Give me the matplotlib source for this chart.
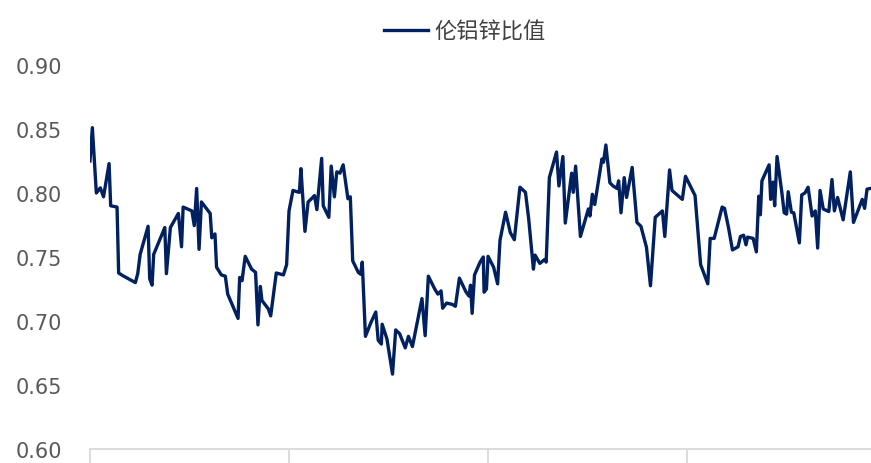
import matplotlib.pyplot as plt

# 伦铝锌比值 (LME aluminium / zinc), trading-day index from start of series
day = [0, 3, 8, 13, 17, 24, 26, 34, 36, 41, 57, 60, 63, 73, 75, 78, 80, 94, 96, 101,
       111, 115, 117, 128, 131, 134, 137, 140, 151, 153, 157, 159,
       165, 170, 173, 186, 188, 191, 195, 203, 208, 211, 214, 216, 224, 227, 234, 243,
       247, 250, 255, 260, 263, 265, 270, 274, 279, 282, 285, 291, 293, 300, 303, 307,
       310, 314, 318, 324, 327,
       330, 337, 340, 342, 346, 353, 359, 362, 366, 367, 373, 380, 384, 389, 396, 400,
       405, 417, 421, 425, 433, 437, 441, 443, 448, 455, 459, 464, 472, 476, 478, 480,
       483, 490,
       494, 495, 498, 500, 507, 512, 515, 522, 528, 533, 540, 547, 551, 557, 559, 565,
       571, 573, 577, 586, 589, 594, 597, 605, 607, 610, 616, 626, 628, 631, 634, 643,
       645, 648, 653,
       657, 662, 664, 667, 671, 674, 681, 687, 692, 699, 704, 710, 719, 722, 728, 731,
       744, 748, 760, 767, 776, 779, 784, 794, 797, 802, 807, 814,
       817, 821, 824, 826, 833, 837, 840, 842, 844, 853, 855, 858, 860, 863, 869, 872,
       875, 877, 881, 884, 891, 894, 898, 902, 907, 911, 914, 917, 921, 928, 932, 935,
       939, 946, 955, 959, 970, 973, 976, 980]
ratio = [0.825, 0.851, 0.800, 0.804, 0.797, 0.823, 0.790, 0.789, 0.7375, 0.7355, 0.730,
         0.737, 0.752, 0.774, 0.733, 0.728, 0.752, 0.773, 0.737, 0.773,
         0.784, 0.758, 0.789, 0.786, 0.7745, 0.8035, 0.756, 0.793, 0.784, 0.765, 0.768, 0.742,
         0.736, 0.735, 0.721, 0.702, 0.734, 0.7315, 0.7505, 0.7405, 0.738, 0.697, 0.727,
         0.716, 0.7095, 0.704, 0.7375, 0.736,
         0.744, 0.786, 0.802, 0.801, 0.8005, 0.819, 0.770, 0.793, 0.796, 0.798, 0.787,
         0.827, 0.790, 0.781, 0.821, 0.797,
         0.8165, 0.8155, 0.822, 0.7955, 0.797,
         0.747, 0.738, 0.7365, 0.746, 0.688, 0.699, 0.707, 0.685, 0.682, 0.6975, 0.686,
         0.6585, 0.693, 0.690, 0.679, 0.688,
         0.680, 0.7175, 0.6885, 0.735, 0.725, 0.721, 0.7235, 0.710, 0.714, 0.713, 0.7115,
         0.7335, 0.723, 0.7195, 0.728, 0.706,
         0.736, 0.746,
         0.750, 0.7225, 0.725, 0.7505, 0.742, 0.729, 0.763, 0.785, 0.769, 0.7635, 0.8045,
         0.8005, 0.780, 0.7405, 0.7515, 0.745,
         0.748, 0.746, 0.812, 0.832, 0.8055, 0.8285, 0.7765, 0.8155, 0.8005, 0.821, 0.766,
         0.7875, 0.782, 0.799, 0.791, 0.8265,
         0.824, 0.8375, 0.808,
         0.8055, 0.8035, 0.8095, 0.7845, 0.812, 0.7965, 0.820, 0.777, 0.774, 0.7575, 0.7275,
         0.781, 0.786, 0.766, 0.818, 0.802,
         0.795, 0.813, 0.798, 0.744, 0.729, 0.7645, 0.7645, 0.789, 0.788, 0.773, 0.7555, 0.758,
         0.766, 0.767, 0.7595, 0.7655, 0.7645, 0.754, 0.7975, 0.783, 0.8095, 0.822, 0.795,
         0.8085, 0.790, 0.8285, 0.8005, 0.7845,
         0.7835, 0.801, 0.785, 0.7845, 0.761, 0.7985, 0.800, 0.8045, 0.782, 0.786, 0.757,
         0.802, 0.7875, 0.7855, 0.8105, 0.786,
         0.7965, 0.779, 0.8165, 0.777, 0.795, 0.788, 0.803, 0.8035]

yticks = [0.60, 0.65, 0.70, 0.75, 0.80, 0.85, 0.90]
xticks = [0, 250, 500, 750]

plt.rcParams['font.family'] = ['Noto Sans CJK SC', 'DejaVu Sans']

fig = plt.figure(figsize=(8.71, 4.64), dpi=100)
ax = fig.add_axes([0.1033, 0.0302, 0.8967, 0.8276])

ax.plot(day, ratio, color='#002060', lw=2.4, label='伦铝锌比值')

ax.set_xlim(0, 981)
ax.set_ylim(0.60, 0.90)
ax.set_yticks(yticks)
ax.set_yticklabels(['%.2f' % v for v in yticks], fontsize=15, color='#595959',
                   family=['DejaVu Sans'])
ax.set_xticks(xticks)
ax.set_xticklabels([])

for s in ['top', 'right', 'left']:
    ax.spines[s].set_visible(False)
ax.spines['bottom'].set_color('#D9D9D9')
ax.spines['bottom'].set_linewidth(1.3)
ax.tick_params(axis='y', length=0, pad=20)
ax.tick_params(axis='x', length=14, width=1.3, color='#D9D9D9', direction='out')

leg = ax.legend(loc='center', bbox_to_anchor=(0.48, 1.089), frameon=False,
                fontsize=16, handlelength=2.0, handletextpad=0.3)
for t in leg.get_texts():
    t.set_color('#404040')

fig.savefig('out.png', dpi=100)
